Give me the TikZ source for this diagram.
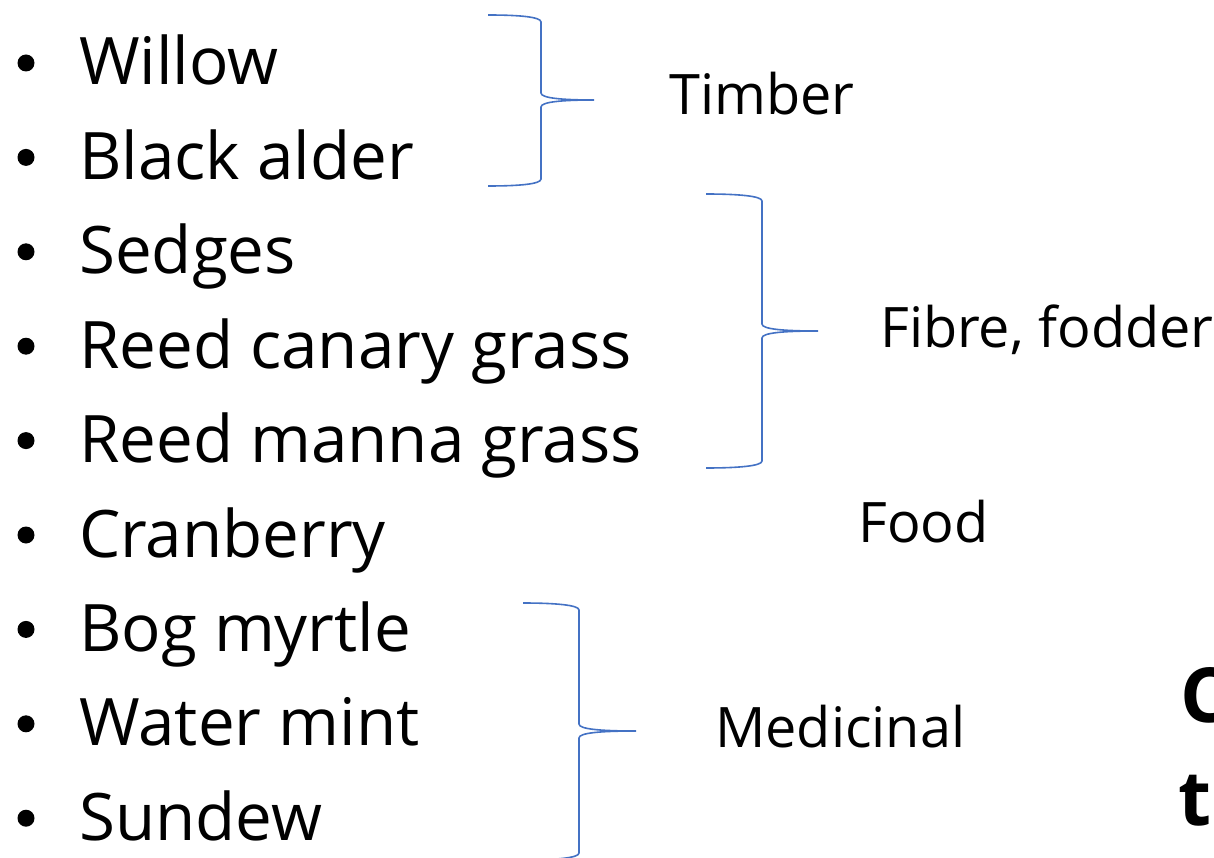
\documentclass[tikz,border=0pt]{standalone}
\usepackage{fontspec}
\setmainfont{Open Sans}
\usepackage{tikz}
\definecolor{bracecol}{RGB}{68,114,196}

\begin{document}
\begin{tikzpicture}[x=1pt,y=-1pt,
    item/.style={anchor=base west,inner sep=0pt,font=\fontsize{65.5}{79}\selectfont},
    lbl/.style={anchor=base west,inner sep=0pt,font=\fontsize{55.8}{67}\selectfont},
    cut/.style={anchor=base west,inner sep=0pt,font=\fontsize{76}{92}\selectfont\bfseries},
    dot/.style={circle,fill=black,inner sep=0pt,minimum size=17pt},
    brc/.style={draw=bracecol,line width=1.6pt}]
  \useasboundingbox (0,0) rectangle (1214,858);
  % plant list
  \foreach \t [count=\i] in {Willow,Black alder,Sedges,Reed canary grass,
      Reed manna grass,Cranberry,Bog myrtle,Water mint,Sundew} {
    \node[dot] (b\i) at (26,{63+(\i-1)*94.4}) {};
    \node[item] (p\i) at (79,{85+(\i-1)*94.4}) {\t};
  }
  % braces: left end x / stem x / tip x / top y / tip y / bottom y
  \foreach \xa/\xb/\xc/\ya/\ym/\yb in {488/541/594/15/100/186,
      706/762/818/194/331/468, 523/579/636/603/731/860}
    \draw[brc] (\xa,\ya) .. controls (\xa+32,\ya) and (\xb,\ya+2) .. (\xb,\ya+7)
      -- (\xb,\ym-7) .. controls (\xb,\ym-2) and (\xb+20,\ym) .. (\xc,\ym)
      .. controls (\xb+20,\ym) and (\xb,\ym+2) .. (\xb,\ym+7)
      -- (\xb,\yb-7) .. controls (\xb,\yb-2) and (\xa+32,\yb) .. (\xa,\yb);
  % uses
  \node[lbl] (timber) at (669,115) {Timber};
  \node[lbl] (fibre) at (880,347) {Fibre, fodder};
  \node[lbl] (food) at (858,542) {Food};
  \node[lbl] (medic) at (715,747) {Medicinal};
  % text running off the page
  \node[cut] (cutc) at (1180,722) {C};
  \node[cut] (cutt) at (1178,825) {t};
\end{tikzpicture}
\end{document}
